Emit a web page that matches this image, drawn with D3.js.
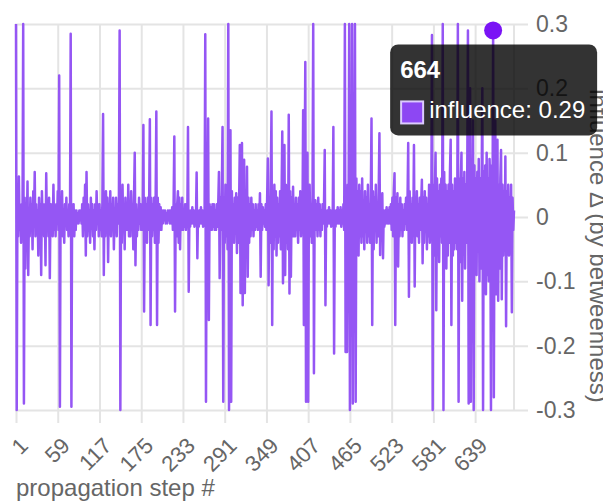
<!DOCTYPE html>
<html>
<head>
<meta charset="utf-8">
<script src="https://cdn.jsdelivr.net/npm/d3@7"></script>
<style>
  body { margin: 0; background: #fff; }
  svg { display: block; font-family: 'Liberation Sans', Arial, sans-serif; }
</style>
</head>
<body>
<div id="chart"></div>
<script>
// x tick labels (propagation steps) and y ticks
const stepTicks = [1, 59, 117, 175, 233, 291, 349, 407, 465, 523, 581, 639]
const yTicks = [-0.3, -0.2, -0.1, 0, 0.1, 0.2, 0.3]

// influence delta per propagation step (step 1 .. 693)
const influence = [
  .3,-.3,.02,-.03,.063,-.02,.01,-.04,.02,-.01,.3,-.29,.03,-.08,.02,-.02,.055,-.09,.01,-.03,
  .03,-.02,.02,-.05,.04,-.01,.07,-.03,.02,-.02,.01,-.06,.03,-.02,.02,-.09,.04,-.01,.02,-.03,
  .02,-.075,.068,-.02,.01,-.03,.03,-.095,.02,-.01,.02,-.03,.05,-.02,.01,-.03,.02,-.01,.04,-.02,
  .22,-.295,.03,-.02,.04,-.03,.01,-.04,.02,-.01,.03,-.02,.01,-.03,.02,-.01,.285,-.295,.02,-.02,
  .02,-.03,.01,-.02,.01,-.01,.005,-.01,.01,-.005,.01,-.01,.02,-.03,.03,-.02,.05,-.06,.07,-.03,
  .02,-.02,.01,-.04,.03,-.01,.02,-.03,.01,-.05,.02,-.02,.04,-.01,.02,-.03,.02,-.02,.01,-.03,
  .02,.16,-.09,.03,-.03,.04,-.02,.03,-.07,.02,-.01,.04,-.03,.02,-.02,.03,-.05,.01,-.02,.03,
  -.03,.02,-.01,.03,.29,-.3,.03,-.04,.05,-.02,.02,-.05,.03,-.02,.01,-.02,.05,-.03,.02,-.03,
  .04,-.01,.02,-.05,.03,.1,-.075,.02,-.03,.01,-.02,.03,-.01,.02,-.02,.01,-.02,.143,-.147,.03,
  -.02,.02,-.04,.03,-.02,.02,.152,-.168,.03,-.03,.02,-.02,.03,-.04,.02,.164,-.168,.03,-.04,.02,
  -.02,.015,-.02,.01,-.01,.01,-.005,.01,-.01,.005,-.01,.01,-.005,.01,-.01,.01,-.01,.015,-.02,.02,
  .125,-.147,.02,-.03,.02,.04,-.04,.03,-.05,.02,-.02,.03,-.02,.01,-.015,.02,-.02,.01,-.01,.14,
  -.116,.01,-.015,.01,-.01,.015,-.01,.01,-.015,.01,-.01,.069,-.064,.01,-.015,.01,-.01,.015,-.01,.01,
  -.015,.01,-.01,.284,-.287,.03,-.02,.153,-.16,.02,-.02,.015,-.02,.02,-.015,.02,-.02,.01,-.02,.02,
  -.015,.02,.07,-.095,.03,-.02,.04,.14,-.287,.03,-.04,.05,-.03,.02,-.05,.3,-.3,.04,.135,-.287,
  .04,-.03,.02,-.04,.03,-.02,.037,-.056,.03,-.04,.02,.112,-.118,.04,.115,-.137,.03,.089,-.118,.04,
  -.05,.078,-.093,.03,-.04,.02,-.03,.03,-.02,.02,-.03,.01,-.02,.02,-.015,.01,-.02,.02,-.01,.037,
  -.093,.02,-.02,.015,-.01,.01,-.015,.02,-.02,.03,.091,-.106,.03,-.04,.05,.164,-.168,.04,-.05,.05,
  -.03,.04,-.06,.03,-.04,.02,-.03,.04,-.05,.03,.133,-.103,.04,.112,-.09,.05,-.04,.03,-.05,.159,
  -.119,.04,-.093,.03,-.03,.047,-.03,.02,-.03,.03,-.02,.02,-.04,.03,-.02,.04,-.03,.02,-.02,.166,
  -.168,.05,.241,-.287,.04,.1,-.287,.03,.05,-.03,.02,-.04,.03,.3,-.243,.02,.026,-.02,.02,-.03,
  .03,-.02,.02,-.03,.01,-.02,.02,-.01,.02,.104,-.137,.01,-.015,.01,-.01,.015,-.01,.01,-.015,.01,
  -.01,.14,-.212,.01,-.015,.01,-.01,.015,-.01,.01,-.01,.015,-.015,.01,-.01,.02,-.02,.3,-.21,.04,
  -.21,.05,-.03,.3,-.3,.06,-.04,.3,-.29,.05,-.03,.3,-.287,.06,-.05,.04,-.06,.05,-.03,.04,
  -.04,.06,-.03,.02,-.05,.04,-.02,.03,-.04,.05,-.03,.02,-.04,.03,.153,-.168,.04,-.05,.03,-.02,
  .05,-.04,.02,-.03,.04,.13,-.059,.03,-.02,.037,-.064,.01,-.015,.01,-.01,.015,-.01,.01,-.01,.015,
  -.01,.02,-.02,.03,-.03,.04,.068,-.168,.03,-.02,.037,-.077,.02,-.03,.03,-.02,.02,-.03,.01,-.02,
  .02,-.01,.03,-.02,.02,.115,-.124,.04,-.03,.02,-.04,.03,-.02,.112,-.108,.03,-.02,.04,-.03,.02,
  -.04,.03,-.02,.02,.058,-.072,.03,-.04,.04,-.02,.03,-.05,.02,-.03,.05,-.04,.03,-.02,.283,-.3,
  .05,-.06,.04,.1,-.145,.06,-.05,.04,-.07,.05,-.03,.06,-.04,.3,-.3,.07,-.05,.05,-.08,.04,
  -.06,.05,-.04,.07,.12,-.168,.05,-.06,.04,-.05,.06,-.04,.03,-.05,.3,-.287,.06,-.07,.05,.1,
  -.13,.06,-.05,.07,-.08,.05,-.04,.06,.29,-.29,.08,.2,-.287,.07,-.06,.15,-.3,.08,-.07,.06,
  -.09,.07,-.05,.09,-.1,.06,-.08,.05,.2,-.3,.07,-.06,.08,-.12,.1,-.09,.06,-.1,.09,.05,
  -.3,.08,-.05,.29,-.28,.07,.15,-.12,.06,.12,-.13,.05,-.08,.06,.104,-.128,.05,-.06,.04,-.05,
  .094,-.17,.04,-.05,.05,-.06,.03,-.04,.05,-.148,.03,-.02,.01
]

const hoverStep = 664
const seriesName = 'influence'

const width = 603
const height = 501
const plot = { left: 16, right: 514, top: 24, bottom: 410 }
const lineColor = '#9556f4'
const gridColor = '#e4e4e4'
const textColor = '#666'

const svg = d3
  .select('#chart')
  .append('svg')
  .attr('width', width)
  .attr('height', height)

const x = d3.scaleLinear().domain([1, influence.length]).range([plot.left, plot.right])
const y = d3.scaleLinear().domain([-0.3, 0.3]).range([plot.bottom, plot.top])

// x grid + ticks + rotated labels
const gx = svg
  .append('g')
  .attr('transform', `translate(0,${plot.bottom})`)
  .call(d3.axisBottom(x).tickValues(stepTicks).tickSizeOuter(0))
gx.select('.domain').remove()
gx.selectAll('.tick line')
  .attr('y1', plot.top - plot.bottom)
  .attr('y2', 13)
  .attr('stroke', gridColor)
  .attr('stroke-width', 2)
gx.selectAll('.tick text')
  .attr('x', 0)
  .attr('y', 0)
  .attr('dy', null)
  .attr('transform', 'translate(13,37) rotate(-45)')
  .style('text-anchor', 'end')
  .style('font-size', '22px')
  .attr('fill', textColor)

// y grid + ticks on the right
const gy = svg
  .append('g')
  .attr('transform', `translate(${plot.right},0)`)
  .call(d3.axisRight(y).tickValues(yTicks).tickFormat((d) => String(d)).tickSizeOuter(0))
gy.select('.domain')
  .attr('d', `M0,${plot.top}V${plot.bottom}`)
  .attr('stroke', gridColor)
  .attr('stroke-width', 2)
gy.selectAll('.tick line')
  .attr('x1', plot.left - plot.right - 1)
  .attr('x2', 14)
  .attr('stroke', gridColor)
  .attr('stroke-width', 2)
gy.selectAll('.tick text')
  .attr('x', 22)
  .style('font-size', '23px')
  .style('text-anchor', 'start')
  .attr('fill', textColor)

// axis titles
svg
  .append('text')
  .attr('x', plot.left)
  .attr('y', 496)
  .attr('fill', textColor)
  .style('font-size', '24px')
  .text('propagation step #')

svg
  .append('text')
  .attr('transform', `translate(590,246) rotate(90)`)
  .attr('text-anchor', 'middle')
  .attr('fill', textColor)
  .style('font-size', '24px')
  .text('influence Δ (by betweenness)')

// the series
const line = d3
  .line()
  .x((d, i) => x(i + 1))
  .y((d) => y(d))

svg
  .append('path')
  .datum(influence)
  .attr('d', line)
  .attr('fill', 'none')
  .attr('stroke', lineColor)
  .attr('stroke-width', 2.5)
  .attr('stroke-linejoin', 'round')

// hovered point + tooltip
const hv = influence[hoverStep - 1]
const px = x(hoverStep)
const py = y(hv)

svg
  .append('circle')
  .attr('cx', px)
  .attr('cy', py)
  .attr('r', 9)
  .attr('fill', '#7a14f5')

const tip = svg.append('g').attr('transform', `translate(${px - 103},${py + 14})`)
tip
  .append('rect')
  .attr('width', 207)
  .attr('height', 91)
  .attr('rx', 8)
  .attr('fill', 'rgba(0,0,0,0.8)')
tip
  .append('text')
  .attr('x', 10)
  .attr('y', 34)
  .attr('fill', '#fff')
  .style('font-size', '24px')
  .style('font-weight', 'bold')
  .text(hoverStep)
tip
  .append('rect')
  .attr('x', 11)
  .attr('y', 57)
  .attr('width', 22)
  .attr('height', 22)
  .attr('fill', '#8d47f3')
  .attr('stroke', '#dccbff')
  .attr('stroke-width', 2)
tip
  .append('text')
  .attr('x', 39)
  .attr('y', 74)
  .attr('fill', '#fff')
  .style('font-size', '24px')
  .text(`${seriesName}: ${d3.format('.2f')(hv)}`)
</script>
</body>
</html>
